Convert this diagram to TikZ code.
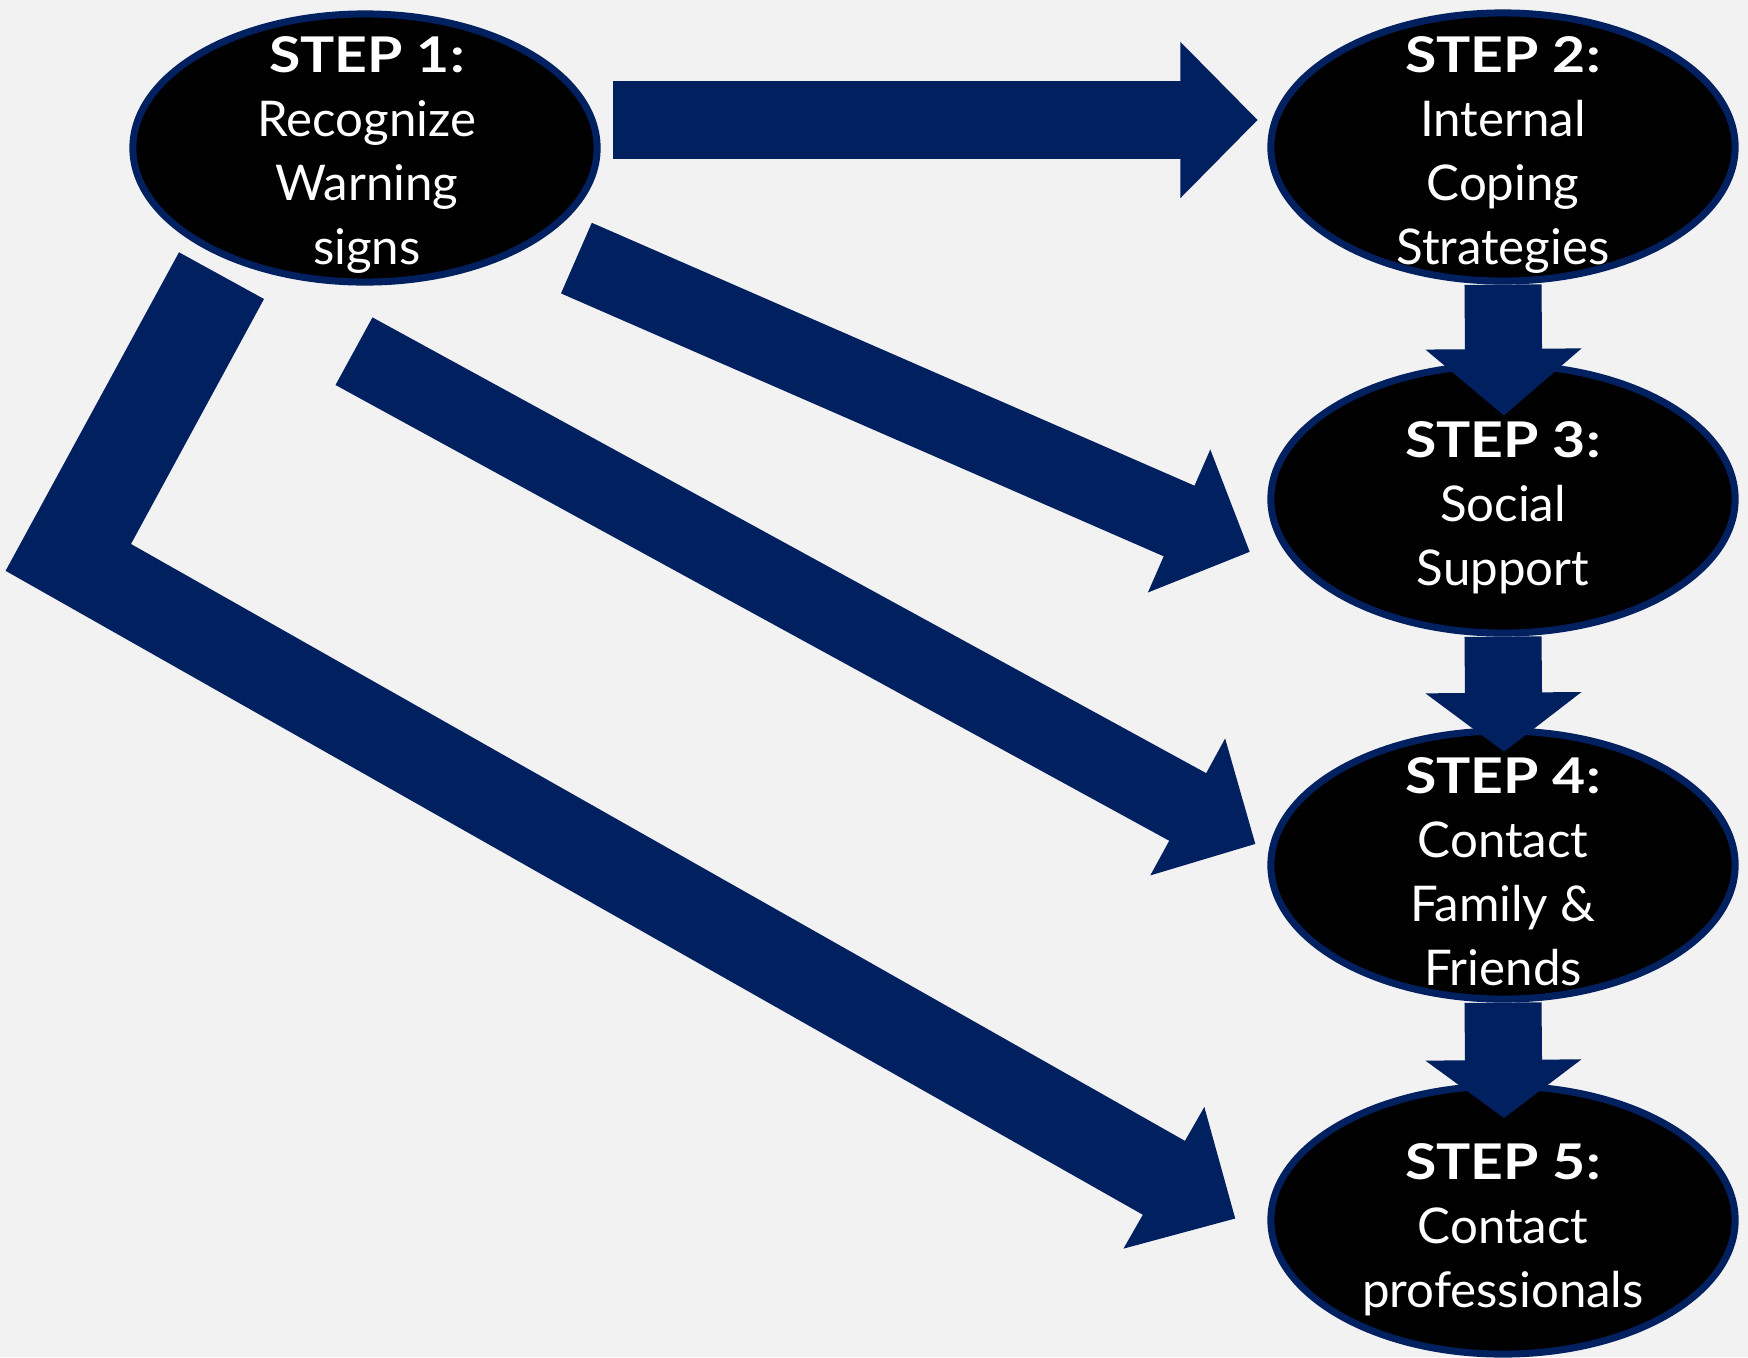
\documentclass[tikz,border=0pt]{standalone}
\usepackage{fontspec}
\setmainfont{Lato}
\usetikzlibrary{calc,shapes.geometric}
\definecolor{stepnavy}{HTML}{002060}
\definecolor{pagegray}{HTML}{F2F2F2}

\newcommand{\blockarrow}[3][0.77cm]{%
  \coordinate (hb) at ($(#3)!#1!(#2)$);
  \draw[stepnavy, line width=0.77cm, shorten >=-0.5pt] (#2) -- (hb);
  \fill[stepnavy] ($(hb)!0.78cm!90:(#3)$) -- (#3) -- ($(hb)!0.78cm!-90:(#3)$) -- cycle;
}
\newcommand{\steplabel}[1]{{\bfseries\addfontfeatures{FakeStretch=1.16}#1}}

\begin{document}
\begin{tikzpicture}[
  x=0.01cm, y=-0.01cm,
  stepoval/.style={ellipse, draw=stepnavy, line width=2pt, fill=black, minimum width=4.64cm, minimum height=2.68cm, inner sep=0pt},
  steptext/.style={text=white, align=center, inner sep=0pt, anchor=north, font=\fontsize{14pt}{18.2pt}\selectfont}
]
\useasboundingbox (0,0) rectangle (1748,1357);
\fill[pagegray] (0,0) rectangle (1748,1357);

\node[stepoval] (s1) at (365,148) {};
\node[stepoval] (s2) at (1503,147) {};
\node[stepoval] (s3) at (1503,499) {};
\node[stepoval] (s4) at (1503,865) {};
\node[stepoval] (s5) at (1503,1220) {};

\coordinate (a12s) at (613,120);
\coordinate (a12t) at (1257.5,120);
\coordinate (a13s) at (576.4,258.1);
\coordinate (a13t) at (1249.7,551.8);
\coordinate (a14s) at (354,351.2);
\coordinate (a14t) at (1255.3,843.9);
\coordinate (a23t) at (1504,415.5);
\coordinate (a34t) at (1504,751.7);
\coordinate (a45t) at (1504,1118);

\blockarrow{a12s}{a12t}
\blockarrow{a13s}{a13t}
\blockarrow{a14s}{a14t}
\blockarrow[0.665cm]{s2.south}{a23t}
\blockarrow[0.59cm]{s3.south}{a34t}
\blockarrow[0.58cm]{s4.south}{a45t}

\coordinate (a15a) at (179,252.3);
\coordinate (a15b) at (264,299);
\coordinate (a15i) at (131,544);
\coordinate (a15o) at (5.6,570.8);
\coordinate (a15t) at (1235.2,1218.5);
\coordinate (a15h) at (1163.9,1177.8);
\fill[stepnavy] (a15a) -- (a15o) -- ($(a15h)!0.425cm!-90:(a15t)$) -- ($(a15h)!0.815cm!-90:(a15t)$)
  -- (a15t) -- ($(a15h)!0.815cm!90:(a15t)$) -- ($(a15h)!0.425cm!90:(a15t)$) -- (a15i) -- (a15b) -- cycle;

\node[steptext] (t1) at (367,36) {\steplabel{STEP 1:}\\Recognize\\Warning\\signs};
\node[steptext] (t2) at (1503,36) {\steplabel{STEP 2:}\\Internal\\Coping\\Strategies};
\node[steptext] (t3) at (1503,421) {\steplabel{STEP 3:}\\Social\\Support};
\node[steptext] (t4) at (1503,756.5) {\steplabel{STEP 4:}\\Contact\\Family \&\\Friends};
\node[steptext] (t5) at (1503,1142.5) {\steplabel{STEP 5:}\\Contact\\professionals};
\end{tikzpicture}
\end{document}
